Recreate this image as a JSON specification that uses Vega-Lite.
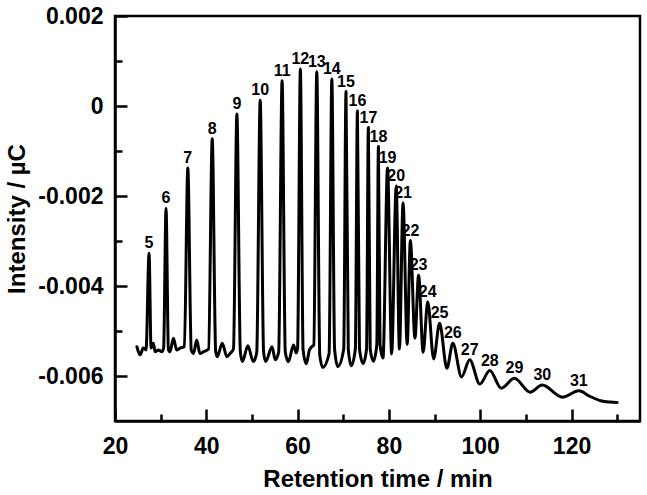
{
  "$schema": "https://vega.github.io/schema/vega-lite/v6.json",
  "width": 525,
  "height": 405,
  "autosize": {"type": "none"},
  "padding": {"left": 115, "top": 16, "right": 7, "bottom": 74},
  "background": "white",
  "config": {
    "view": {"stroke": "black", "strokeWidth": 2.5},
    "font": "Liberation Sans"
  },
  "datasets": {
    "trace": [
      {"t": 24.8, "i": -0.00535}, {"t": 25.5, "i": -0.00553}, {"t": 26.2, "i": -0.00538}, {"t": 26.8, "i": -0.00542},
      {"t": 27.46, "i": -0.00327}, {"t": 27.9, "i": -0.00538}, {"t": 28.4, "i": -0.00527}, {"t": 28.8, "i": -0.00546},
      {"t": 29.5, "i": -0.00542}, {"t": 30.25, "i": -0.00546}, {"t": 30.65, "i": -0.00538}, {"t": 31.18, "i": -0.00227},
      {"t": 31.7, "i": -0.00542}, {"t": 32.05, "i": -0.00546}, {"t": 32.8, "i": -0.00516}, {"t": 33.5, "i": -0.00542},
      {"t": 34.25, "i": -0.00538}, {"t": 35.2, "i": -0.00535}, {"t": 35.95, "i": -0.00138}, {"t": 36.7, "i": -0.00542},
      {"t": 37.2, "i": -0.0055}, {"t": 37.9, "i": -0.0052}, {"t": 38.6, "i": -0.0055}, {"t": 39.4, "i": -0.00546},
      {"t": 40.5, "i": -0.0054}, {"t": 41.3, "i": -0.00073}, {"t": 42.05, "i": -0.00545}, {"t": 42.4, "i": -0.00557},
      {"t": 43.5, "i": -0.00527}, {"t": 44.5, "i": -0.00557}, {"t": 45.2, "i": -0.0055}, {"t": 45.95, "i": -0.0054},
      {"t": 46.7, "i": -0.00018}, {"t": 47.45, "i": -0.00545}, {"t": 47.9, "i": -0.00568}, {"t": 49.1, "i": -0.00533},
      {"t": 50.3, "i": -0.00568}, {"t": 51.05, "i": -0.00547}, {"t": 51.8, "i": 0.00013}, {"t": 52.55, "i": -0.00547},
      {"t": 53.0, "i": -0.00568}, {"t": 54.4, "i": -0.00535}, {"t": 55.1, "i": -0.00564}, {"t": 55.85, "i": -0.00547},
      {"t": 56.6, "i": 0.00056}, {"t": 57.3, "i": -0.00547}, {"t": 58.0, "i": -0.00568}, {"t": 59.1, "i": -0.00531},
      {"t": 59.7, "i": -0.00549}, {"t": 60.0, "i": -0.00538}, {"t": 60.6, "i": 0.00082}, {"t": 61.2, "i": -0.00542},
      {"t": 61.9, "i": -0.00573}, {"t": 62.6, "i": -0.00542}, {"t": 63.1, "i": -0.00535}, {"t": 63.55, "i": -0.00531},
      {"t": 64.2, "i": 0.00076}, {"t": 64.85, "i": -0.00553}, {"t": 65.5, "i": -0.00581}, {"t": 66.9, "i": -0.0055},
      {"t": 67.5, "i": 0.0006}, {"t": 68.1, "i": -0.0054}, {"t": 68.8, "i": -0.00579}, {"t": 70.1, "i": -0.0054},
      {"t": 70.6, "i": 0.00032}, {"t": 71.1, "i": -0.0054}, {"t": 71.75, "i": -0.00577}, {"t": 72.65, "i": -0.0054},
      {"t": 73.1, "i": -0.00011}, {"t": 73.55, "i": -0.0054}, {"t": 74.35, "i": -0.00572}, {"t": 75.1, "i": -0.0054},
      {"t": 75.5, "i": -0.00048}, {"t": 75.9, "i": -0.0054}, {"t": 76.6, "i": -0.00567}, {"t": 77.35, "i": -0.0053},
      {"t": 77.7, "i": -0.0009}, {"t": 78.05, "i": -0.0053}, {"t": 78.7, "i": -0.0056}, {"t": 79.7, "i": -0.00138},
      {"t": 80.6, "i": -0.00551}, {"t": 81.6, "i": -0.00178}, {"t": 82.3, "i": -0.0054}, {"t": 83.1, "i": -0.00215},
      {"t": 84.0, "i": -0.0053}, {"t": 84.7, "i": -0.00299}, {"t": 85.7, "i": -0.00516}, {"t": 86.5, "i": -0.00376},
      {"t": 87.5, "i": -0.00547}, {"t": 88.5, "i": -0.00435}, {"t": 89.8, "i": -0.00562}, {"t": 91.1, "i": -0.00483},
      {"t": 92.7, "i": -0.00583}, {"t": 94.0, "i": -0.00527}, {"t": 95.9, "i": -0.00602}, {"t": 97.7, "i": -0.00564},
      {"t": 99.9, "i": -0.00618}, {"t": 102.1, "i": -0.00588}, {"t": 104.6, "i": -0.00627}, {"t": 107.5, "i": -0.00605},
      {"t": 110.9, "i": -0.00636}, {"t": 113.6, "i": -0.0062}, {"t": 118.0, "i": -0.00647}, {"t": 121.6, "i": -0.00633},
      {"t": 124.0, "i": -0.00645}, {"t": 126.4, "i": -0.00655}, {"t": 128.5, "i": -0.00658}, {"t": 130.0, "i": -0.00659}
    ],
    "peaks": [
      {"n": "5", "t": 27.46, "i": -0.00327}, {"n": "6", "t": 31.18, "i": -0.00227}, {"n": "7", "t": 35.95, "i": -0.00138},
      {"n": "8", "t": 41.3, "i": -0.00073}, {"n": "9", "t": 46.7, "i": -0.00018}, {"n": "10", "t": 51.8, "i": 0.00013},
      {"n": "11", "t": 56.6, "i": 0.00056}, {"n": "12", "t": 60.6, "i": 0.00082}, {"n": "13", "t": 64.2, "i": 0.00076},
      {"n": "14", "t": 67.5, "i": 0.0006}, {"n": "15", "t": 70.6, "i": 0.00032}, {"n": "16", "t": 73.1, "i": -0.00011},
      {"n": "17", "t": 75.5, "i": -0.00048}, {"n": "18", "t": 77.7, "i": -0.0009}, {"n": "19", "t": 79.7, "i": -0.00138},
      {"n": "20", "t": 81.6, "i": -0.00178}, {"n": "21", "t": 83.1, "i": -0.00215}, {"n": "22", "t": 84.7, "i": -0.00299},
      {"n": "23", "t": 86.5, "i": -0.00376}, {"n": "24", "t": 88.5, "i": -0.00435}, {"n": "25", "t": 91.1, "i": -0.00483},
      {"n": "26", "t": 94.0, "i": -0.00527}, {"n": "27", "t": 97.7, "i": -0.00564}, {"n": "28", "t": 102.1, "i": -0.00588},
      {"n": "29", "t": 107.5, "i": -0.00605}, {"n": "30", "t": 113.6, "i": -0.0062}, {"n": "31", "t": 121.6, "i": -0.00633}
    ]
  },
  "layer": [
    {
      "data": {"name": "trace"},
      "mark": {"type": "line", "interpolate": "monotone", "color": "black", "strokeWidth": 3, "strokeJoin": "round", "strokeCap": "round", "clip": true},
      "encoding": {
        "x": {
          "field": "t", "type": "quantitative",
          "scale": {"domain": [20, 135], "nice": false, "zero": false},
          "title": "Retention time / min",
          "axis": {
            "values": [20, 30, 40, 50, 60, 70, 80, 90, 100, 110, 120, 130],
            "labelExpr": "datum.value % 20 === 0 ? datum.label : ''",
            "tickSize": {"condition": {"test": "datum.value % 20 === 0", "value": -12}, "value": -7},
            "tickWidth": 2.5, "tickColor": "black",
            "domainColor": "black", "domainWidth": 2.5,
            "grid": false,
            "labelFont": "Liberation Sans", "labelFontWeight": "bold", "labelFontSize": 23, "labelColor": "black",
            "labelPadding": 26, "labelFlush": false, "labelOverlap": false,
            "titleFont": "Liberation Sans", "titleFontWeight": "bold", "titleFontSize": 24, "titleColor": "black",
            "titlePadding": 4
          }
        },
        "y": {
          "field": "i", "type": "quantitative",
          "scale": {"domain": [-0.007, 0.002], "nice": false, "zero": false},
          "title": "Intensity / µC",
          "axis": {
            "values": [-0.006, -0.005, -0.004, -0.003, -0.002, -0.001, 0, 0.001, 0.002],
            "labelExpr": "abs(round(datum.value * 1000)) % 2 === 1 ? '' : (abs(datum.value) < 1e-9 ? '0' : replace(format(datum.value, '.3f'), '\u2212', '-'))",
            "tickSize": {"condition": {"test": "abs(round(datum.value * 1000)) % 2 === 0", "value": -12}, "value": -7},
            "tickWidth": 2.5, "tickColor": "black",
            "domainColor": "black", "domainWidth": 2.5,
            "grid": false,
            "labelFont": "Liberation Sans", "labelFontWeight": "bold", "labelFontSize": 23, "labelColor": "black",
            "labelPadding": 24, "labelFlush": false, "labelOverlap": false,
            "titleFont": "Liberation Sans", "titleFontWeight": "bold", "titleFontSize": 24, "titleColor": "black",
            "titlePadding": 8
          }
        }
      }
    },
    {
      "data": {"name": "peaks"},
      "mark": {"type": "text", "font": "Liberation Sans", "fontWeight": "bold", "fontSize": 16, "baseline": "alphabetic", "dy": -5, "color": "black"},
      "encoding": {
        "x": {"field": "t", "type": "quantitative"},
        "y": {"field": "i", "type": "quantitative"},
        "text": {"field": "n", "type": "nominal"}
      }
    }
  ]
}
